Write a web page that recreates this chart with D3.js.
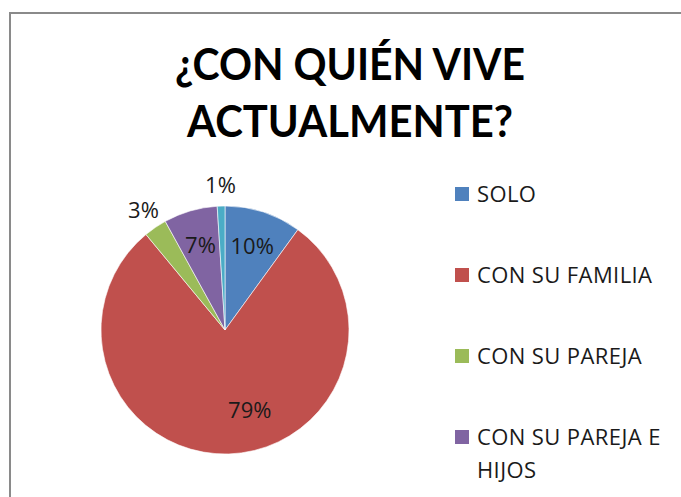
<!DOCTYPE html>
<html>
<head>
<meta charset="utf-8">
<script src="https://cdn.jsdelivr.net/npm/d3@7"></script>
<style>
  html, body { margin: 0; padding: 0; background: #fff; overflow: hidden; }
</style>
</head>
<body>
<svg id="viz"></svg>
<script>
// --- Data ---
const categories = ["SOLO", "CON SU FAMILIA", "CON SU PAREJA", "CON SU PAREJA E HIJOS", "OTROS"];
const values = [10, 79, 3, 7, 1];
const colors = ["#4F81BD", "#C0504D", "#9BBB59", "#8064A2", "#4BACC6"];
const titleLines = ["¿CON QUIÉN VIVE", "ACTUALMENTE?"];

const width = 681;
const height = 497;

const svg = d3.select("#viz")
  .attr("width", width)
  .attr("height", height);

// --- Chart frame ---
svg.append("rect")
  .attr("x", 10)
  .attr("y", 13)
  .attr("width", width)
  .attr("height", height)
  .attr("fill", "white")
  .attr("stroke", "#8a8a8a")
  .attr("stroke-width", 2);

// --- Title (squeezed to the narrow look of the original) ---
const titleWidths = [350, 326];
svg.append("g")
  .selectAll("text")
  .data(titleLines)
  .join("text")
  .attr("x", 350)
  .attr("y", (d, i) => 80 + i * 57)
  .attr("text-anchor", "middle")
  .attr("font-family", "Lato, 'Open Sans', sans-serif")
  .attr("font-weight", "bold")
  .attr("font-size", "43px")
  .attr("fill", "#000")
  .attr("textLength", (d, i) => titleWidths[i])
  .attr("lengthAdjust", "spacingAndGlyphs")
  .text(d => d);

// --- Pie ---
const cx = 225, cy = 330, radius = 124;
const data = categories.map((c, i) => ({ name: c, value: values[i], color: colors[i] }));

const pie = d3.pie().sort(null).value(d => d.value);
const arcs = pie(data);
const arc = d3.arc().innerRadius(0).outerRadius(radius);
const labelArc = d3.arc().innerRadius(radius * 0.71).outerRadius(radius * 0.71);
const outerArc = d3.arc().innerRadius(radius * 1.17).outerRadius(radius * 1.17);

const g = svg.append("g").attr("transform", `translate(${cx},${cy})`);

g.selectAll("path")
  .data(arcs)
  .join("path")
  .attr("d", arc)
  .attr("fill", d => d.data.color)
  .attr("stroke", "white")
  .attr("stroke-width", 0.6);

// small slices get their label outside
g.selectAll("text")
  .data(arcs)
  .join("text")
  .attr("transform", d => {
    const small = d.data.value < 5;
    const p = (small ? outerArc : labelArc).centroid(d);
    // big slice label sits a bit to the right, like Excel's best fit
    const shift = d.data.value > 50 ? 22 : 0;
    return `translate(${p[0] + shift},${p[1] - (d.data.value > 50 ? 8 : 0)})`;
  })
  .attr("text-anchor", "middle")
  .attr("dy", "0.36em")
  .attr("font-family", "'Open Sans', sans-serif")
  .attr("font-size", "22px")
  .attr("fill", "#1a1a1a")
  .text(d => d.data.value + "%");

// --- Legend (the last entry falls below the visible area) ---
const legend = svg.append("g")
  .selectAll("g")
  .data(data.slice(0, 4))
  .join("g")
  .attr("transform", (d, i) => `translate(455,${187 + i * 81})`);

legend.append("rect")
  .attr("width", 14)
  .attr("height", 14)
  .attr("fill", d => d.color);

legend.append("text")
  .attr("x", 22)
  .attr("y", 15)
  .attr("font-family", "'Open Sans', sans-serif")
  .attr("font-size", "22px")
  .attr("letter-spacing", "0.4px")
  .attr("fill", "#1a1a1a")
  .each(function(d) {
    const t = d3.select(this);
    const words = d.name === "CON SU PAREJA E HIJOS" ? ["CON SU PAREJA E", "HIJOS"] : [d.name];
    words.forEach((w, i) => {
      t.append("tspan").attr("x", 22).attr("dy", i === 0 ? 0 : 33).text(w);
    });
  });
</script>
</body>
</html>
